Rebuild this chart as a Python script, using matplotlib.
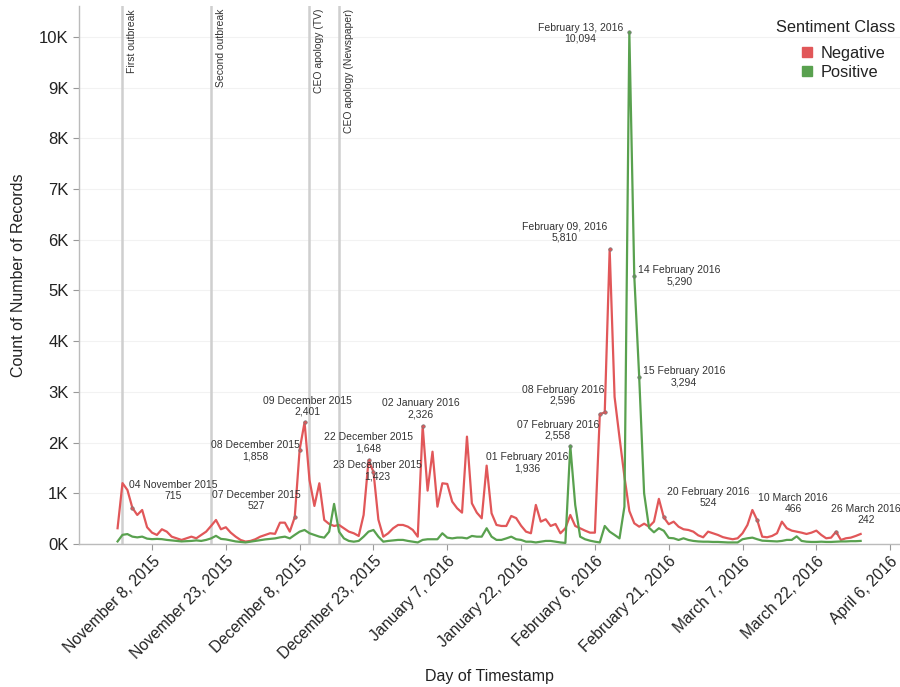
import matplotlib
matplotlib.use("Agg")
import numpy as np
import pandas as pd
import matplotlib.pyplot as plt
from matplotlib.lines import Line2D
from matplotlib.ticker import FuncFormatter

plt.rcParams["font.family"] = ["Liberation Sans", "DejaVu Sans"]

# ---------------------------------------------------------------------------
# Data (daily record counts, 1 Nov 2015 - 31 Mar 2016)
# ---------------------------------------------------------------------------

START_DATE = "2015-11-01"

NEGATIVE = [
    310, 1200, 1065, 715, 572, 670, 330, 223, 178, 290,
    243, 144, 112, 79, 112, 144, 112, 178, 243, 355,
    473, 290, 330, 223, 144, 79, 47, 60, 93, 144,
    178, 211, 200, 420, 420, 243, 527, 1858, 2401, 1262,
    750, 1197, 473, 394, 355, 375, 310, 243, 211, 158,
    572, 1648, 1423, 480, 144, 211, 310, 375, 375, 341,
    276, 144, 2326, 1052, 1820, 736, 1197, 1184, 835, 704,
    618, 2117, 802, 618, 506, 1545, 605, 375, 355, 355,
    552, 510, 360, 243, 211, 770, 440, 487, 355, 394,
    211, 310, 572, 355, 310, 263, 223, 223, 2558, 2596,
    5810, 2900, 2100, 1330, 650, 408, 341, 400, 341, 440,
    890, 524, 390, 440, 341, 290, 276, 243, 170, 132,
    243, 211, 178, 135, 112, 93, 112, 211, 375, 670,
    466, 144, 132, 158, 211, 440, 310, 263, 243, 223,
    197, 223, 263, 178, 112, 125, 242, 79, 112, 125,
    158, 197,
]

POSITIVE = [
    50, 180, 195, 145, 130, 145, 105, 95, 100, 95,
    80, 70, 60, 50, 55, 60, 70, 60, 80, 110,
    160, 100, 90, 70, 50, 40, 30, 45, 60, 75,
    90, 100, 110, 130, 144, 110, 178, 243, 276, 211,
    178, 144, 125, 243, 790, 243, 110, 60, 45, 60,
    144, 243, 276, 144, 45, 60, 70, 80, 80, 60,
    45, 30, 80, 93, 93, 93, 211, 125, 110, 125,
    125, 110, 158, 144, 144, 310, 144, 80, 80, 110,
    144, 93, 80, 45, 45, 30, 45, 60, 60, 45,
    30, 20, 1936, 770, 144, 93, 65, 45, 30, 355,
    243, 178, 110, 736, 10094, 5290, 3294, 1000, 320, 230,
    310, 260, 120, 112, 79, 112, 79, 60, 50, 45,
    45, 40, 40, 35, 30, 30, 30, 93, 112, 125,
    93, 65, 60, 55, 50, 60, 80, 80, 150, 60,
    45, 40, 40, 45, 40, 40, 45, 50, 50, 55,
    55, 60,
]

EVENT_DATES = ["2015-11-02", "2015-11-20", "2015-12-10", "2015-12-16"]
EVENT_LABELS = ["First outbreak", "Second outbreak",
                "CEO apology (TV)", "CEO apology (Newspaper)"]

X_TICK_DATES = ["2015-11-08", "2015-11-23", "2015-12-08", "2015-12-23",
                "2016-01-07", "2016-01-22", "2016-02-06", "2016-02-21",
                "2016-03-07", "2016-03-22", "2016-04-06"]
X_TICK_LABELS = ["November 8, 2015", "November 23, 2015", "December 8, 2015",
                 "December 23, 2015", "January 7, 2016", "January 22, 2016",
                 "February 6, 2016", "February 21, 2016", "March 7, 2016",
                 "March 22, 2016", "April 6, 2016"]

Y_TICKS = [0, 1000, 2000, 3000, 4000, 5000, 6000, 7000, 8000, 9000, 10000]

# Annotated points: series, date, date caption
ANNOT_SERIES = ["neg", "neg", "neg", "neg", "neg", "neg", "neg",
                "pos", "neg", "neg", "neg", "pos", "pos", "pos",
                "neg", "neg", "neg"]
ANNOT_DATES = ["2015-11-04", "2015-12-07", "2015-12-08", "2015-12-09",
               "2015-12-22", "2015-12-23", "2016-01-02", "2016-02-01",
               "2016-02-07", "2016-02-08", "2016-02-09", "2016-02-13",
               "2016-02-14", "2016-02-15", "2016-02-20", "2016-03-10",
               "2016-03-26"]
ANNOT_CAPTIONS = ["04 November 2015", "07 December 2015", "08 December 2015",
                  "09 December 2015", "22 December 2015", "23 December 2015",
                  "02 January 2016", "01 February 2016", "07 February 2016",
                  "08 February 2016", "February 09, 2016", "February 13, 2016",
                  "14 February 2016", "15 February 2016", "20 February 2016",
                  "10 March 2016", "26 March 2016"]

# label offsets from their point, in pixels (layout only)
ANNOT_OFFSETS = [(41, 17), (-38, 17), (-44, -1), (3, 16), (0, 18), (4, 1),
                 (-2, 17), (-43, -17), (-42, -16), (-42, 17), (-45, 17),
                 (-49, -1), (45, 0), (45, 0), (44, 20), (36, 17), (30, 17)]

RED = "#E15759"
GREEN = "#59A14F"
TEXT = "#333333"


def main():
    dates = pd.date_range(START_DATE, periods=len(NEGATIVE), freq="D")
    neg = pd.Series(NEGATIVE, index=dates)
    pos = pd.Series(POSITIVE, index=dates)
    series = {"neg": neg, "pos": pos}
    colors = {"neg": RED, "pos": GREEN}

    fig = plt.figure(figsize=(9, 6.87), dpi=100)
    ax = fig.add_axes([0.0878, 0.2082, 0.9122, 0.7831])

    # event markers
    for d, label in zip(EVENT_DATES, EVENT_LABELS):
        ts = pd.Timestamp(d)
        ax.axvline(ts, color="#CFCFCF", linewidth=1.8, zorder=1)
        ax.annotate(label, xy=(ts, 1), xycoords=("data", "axes fraction"),
                    xytext=(5, -3), textcoords="offset pixels",
                    rotation=90, ha="left", va="top", fontsize=7.5,
                    color=TEXT)

    ax.plot(dates, neg, color=RED, linewidth=1.6, zorder=3)
    ax.plot(dates, pos, color=GREEN, linewidth=1.6, zorder=3)

    for key, d, cap, off in zip(ANNOT_SERIES, ANNOT_DATES, ANNOT_CAPTIONS,
                                ANNOT_OFFSETS):
        ts = pd.Timestamp(d)
        val = series[key].loc[ts]
        ax.plot([ts], [val], marker="o", markersize=2.5,
                color=colors[key], markeredgecolor="#777777",
                markeredgewidth=0.5, zorder=4)
        ax.annotate(f"{cap}\n{val:,}", xy=(ts, val), xytext=off,
                    textcoords="offset pixels", ha="center", va="center",
                    fontsize=7.5, color=TEXT, linespacing=1.15, zorder=5)

    ax.set_xlim(pd.Timestamp("2015-10-24 04:00"), pd.Timestamp("2016-04-08"))
    ax.set_ylim(0, 10610)

    ax.set_yticks(Y_TICKS)
    ax.yaxis.set_major_formatter(FuncFormatter(lambda v, p: f"{int(v / 1000)}K"))
    ax.set_xticks([pd.Timestamp(d) for d in X_TICK_DATES])
    ax.set_xticklabels(X_TICK_LABELS, rotation=45, ha="right", va="top",
                       rotation_mode="anchor")

    ax.tick_params(axis="both", colors="#999999", labelcolor="#222222",
                   length=4, width=0.8)
    ax.tick_params(axis="x", labelsize=11.3, pad=3)
    ax.tick_params(axis="y", labelsize=12)

    ax.grid(axis="y", color="#F2F2F2", linewidth=0.8)
    ax.set_axisbelow(True)
    for side in ["top", "right"]:
        ax.spines[side].set_visible(False)
    for side in ["left", "bottom"]:
        ax.spines[side].set_color("#BBBBBB")
        ax.spines[side].set_linewidth(1.0)

    ax.set_ylabel("Count of Number of Records", fontsize=11.5, color="#222222",
                  labelpad=9)
    ax.set_xlabel("Day of Timestamp", fontsize=11.5, color="#222222",
                  labelpad=5)

    fig.text(895 / 900, 1 - 28 / 687, "Sentiment Class", ha="right",
             va="center", fontsize=11.8, color="#222222")
    handles = [Line2D([], [], linestyle="none", marker="s", markersize=7.5,
                      color=RED),
               Line2D([], [], linestyle="none", marker="s", markersize=7.5,
                      color=GREEN)]
    leg = fig.legend(handles, ["Negative", "Positive"],
                     loc="upper left", bbox_to_anchor=(800 / 900, 1 - 46 / 687),
                     frameon=False, fontsize=11.8,
                     handletextpad=0.35, labelspacing=0.22, borderpad=0.0,
                     borderaxespad=0.0, handlelength=0.9)
    for t in leg.get_texts():
        t.set_color("#222222")

    fig.savefig("out.png", dpi=100)
    plt.close(fig)


if __name__ == "__main__":
    main()
